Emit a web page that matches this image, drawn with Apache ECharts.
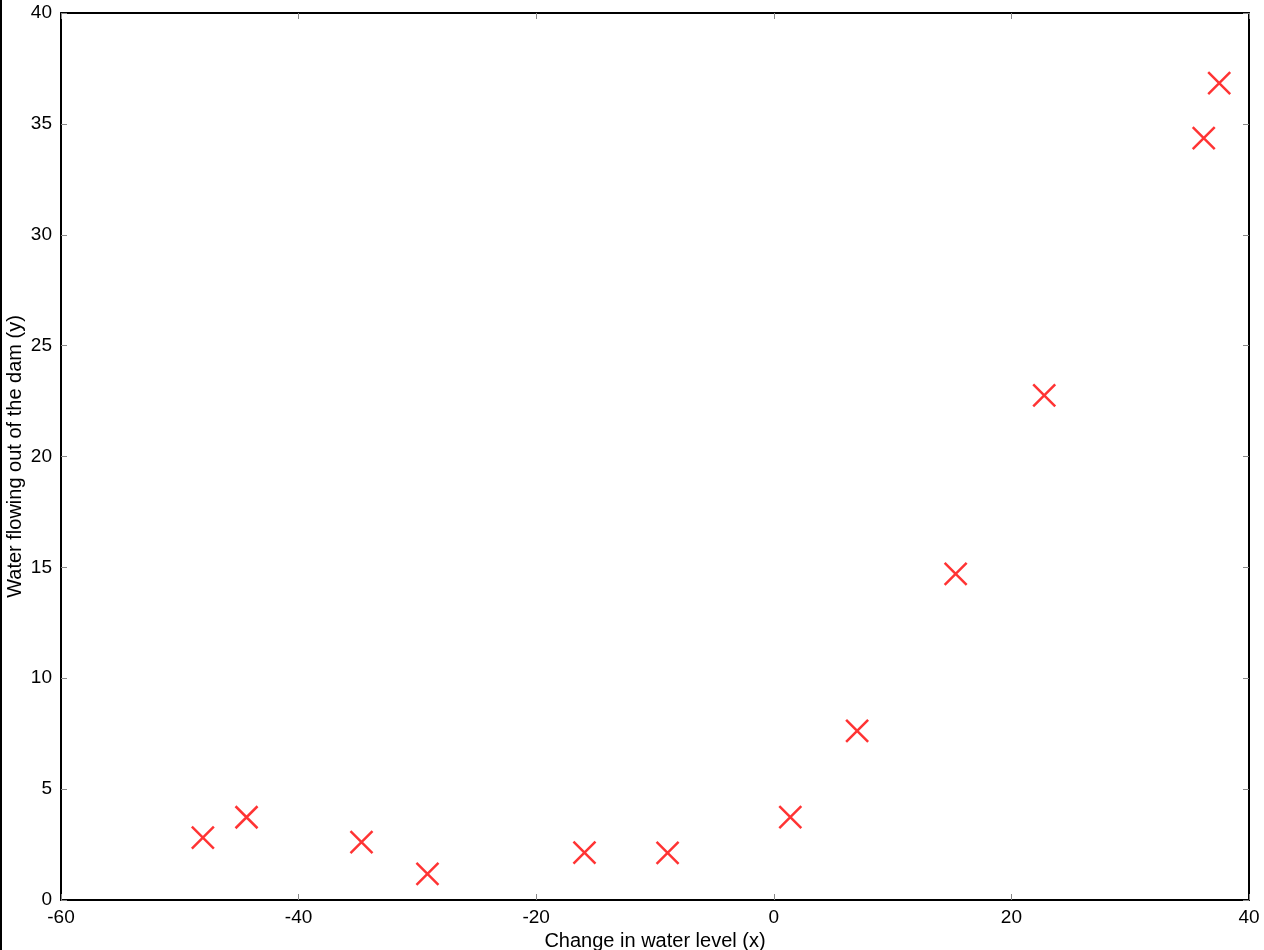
<!DOCTYPE html>
<html>
<head>
<meta charset="utf-8">
<script src="https://cdn.jsdelivr.net/npm/echarts@6/dist/echarts.min.js"></script>
<style>
html,body{margin:0;padding:0;background:#fff;}
#chart{width:1264px;height:950px;}
</style>
</head>
<body>
<div id="chart"></div>
<script>
const waterLevel = [-15.9368, -29.1530, 36.1895, 37.4922, -48.0588, -8.9415, 15.3078, -34.7063, 1.3892, -44.3838, 7.0135, 22.7627];
const waterFlow = [2.1343, 1.1733, 34.3591, 36.8380, 2.8090, 2.1211, 14.7103, 2.6142, 3.7402, 3.7317, 7.6277, 22.7524];
const xLabel = 'Change in water level (x)';
const yLabel = 'Water flowing out of the dam (y)';

const points = waterLevel.map((x, i) => [x, waterFlow[i]]);
const font = 'Liberation Sans, Arial, Helvetica, sans-serif';
const chart = echarts.init(document.getElementById('chart'), null, {renderer: 'canvas'});

const common = {
  axisLine: {show: true, onZero: false, lineStyle: {color: '#000', width: 2}},
  axisTick: {show: true, inside: true, length: 6, lineStyle: {color: '#888', width: 1}},
  splitLine: {show: false},
  axisLabel: {color: '#000', fontSize: 19, fontFamily: font}
};

chart.setOption({
  animation: false,
  backgroundColor: '#fff',
  grid: {left: 61, right: 15, top: 13, bottom: 50, containLabel: false, outerBoundsMode: 'none'},
  xAxis: [
    Object.assign({}, common, {
      type: 'value', position: 'bottom', min: -60, max: 40, interval: 20,
      name: xLabel, nameLocation: 'middle', nameGap: 31, nameMoveOverlap: false,
      nameTextStyle: {color: '#000', fontSize: 20, fontFamily: font},
      axisLabel: Object.assign({}, common.axisLabel, {margin: 8})
    }),
    Object.assign({}, common, {
      type: 'value', position: 'top', min: -60, max: 40, interval: 20,
      axisLabel: {show: false}
    })
  ],
  yAxis: [
    Object.assign({}, common, {
      type: 'value', position: 'left', min: 0, max: 40, interval: 5,
      name: yLabel, nameLocation: 'middle', nameGap: 36, nameMoveOverlap: false,
      nameTextStyle: {color: '#000', fontSize: 20, fontFamily: font},
      axisLabel: Object.assign({}, common.axisLabel, {margin: 9})
    }),
    Object.assign({}, common, {
      type: 'value', position: 'right', min: 0, max: 40, interval: 5,
      axisLabel: {show: false}
    })
  ],
  graphic: [{
    type: 'rect', left: 0, top: 0,
    shape: {x: 0, y: 0, width: 2, height: 950},
    style: {fill: '#000'}
  }],
  series: [{
    type: 'scatter',
    xAxisIndex: 0, yAxisIndex: 0,
    data: points,
    symbol: 'path://M0,0L10,10M10,0L0,10',
    symbolSize: 22,
    itemStyle: {color: '#ff0000', borderColor: '#ff0000', borderWidth: 2.5}
  }]
});
</script>
</body>
</html>
